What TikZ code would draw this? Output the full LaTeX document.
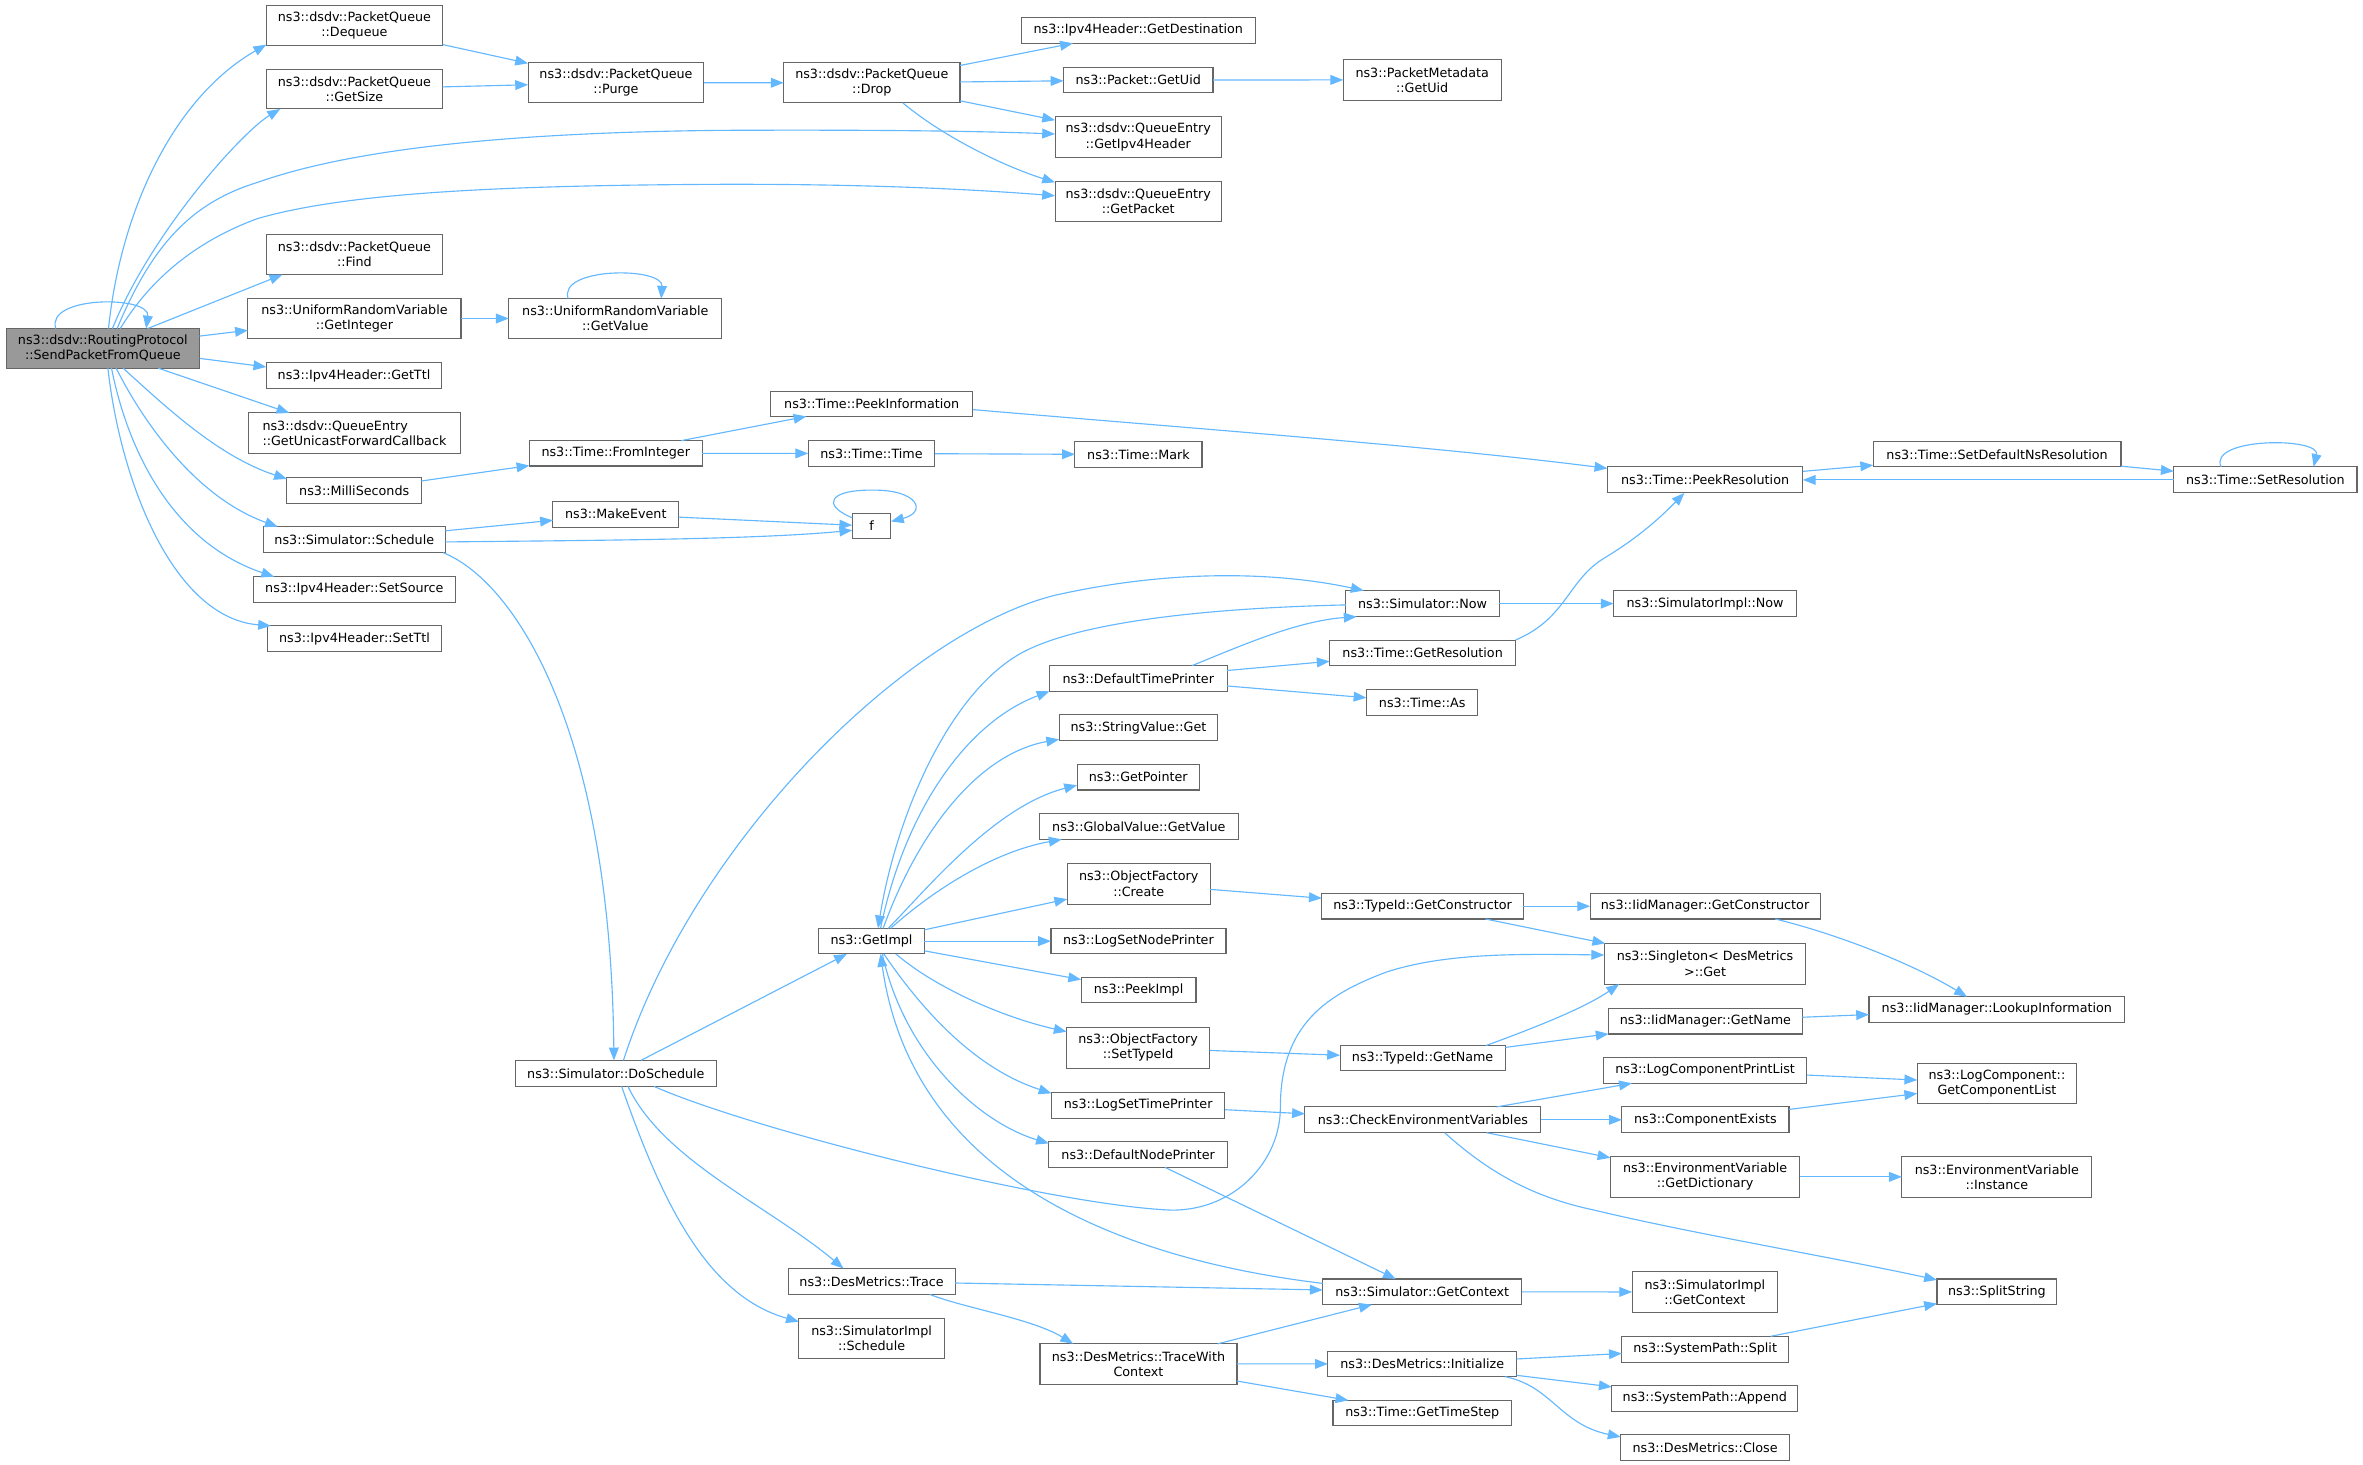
\documentclass[tikz,border=0pt]{standalone}
\usepackage{fontspec}
\setmainfont{DejaVu Sans}
\usetikzlibrary{arrows.meta}
\definecolor{edgec}{HTML}{63B8FF}
\definecolor{boxc}{HTML}{666666}
\definecolor{mainfill}{HTML}{999999}
\tikzset{
 box/.style={draw=boxc, line width=0.7pt, fill=white, inner sep=0pt, outer sep=0pt, align=center, font=\fontsize{8.45}{10}\selectfont, text=black},
 e/.style={draw=edgec, line width=0.75pt, -{Triangle[length=8.5pt,width=6.5pt]}},
}
\newcommand\bx[7][]{\node[box,#1, minimum width={(#5)-(#3)}, minimum height={(#6)-(#4)}] (#2) at ({((#3)+(#5))/2},{((#4)+(#6))/2}) {#7};}
\begin{document}
\begin{tikzpicture}[x=1pt,y=-1pt]
\fill[white] (0,0) rectangle (1568,972.1);
\path[use as bounding box] (0,0) rectangle (1568,972.1);
% nodes
\bx[fill=mainfill]{main}{4}{218}{132.5}{244.3}{ns3::dsdv::RoutingProtocol\\::SendPacketFromQueue}
\bx{deq}{176.7}{3.6}{293.7}{29.9}{ns3::dsdv::PacketQueue\\::Dequeue}
\bx{gsz}{176.7}{45.9}{293.7}{72.3}{ns3::dsdv::PacketQueue\\::GetSize}
\bx{purge}{350.4}{41.5}{467.1}{68.1}{ns3::dsdv::PacketQueue\\::Purge}
\bx{drop}{520}{41.7}{637}{68.3}{ns3::dsdv::PacketQueue\\::Drop}
\bx{gdest}{677.6}{11.6}{833}{28.7}{ns3::Ipv4Header::GetDestination}
\bx{puid}{705.7}{44.6}{804.9}{61.6}{ns3::Packet::GetUid}
\bx{pmuid}{891.3}{39.6}{996.1}{66.4}{ns3::PacketMetadata\\::GetUid}
\bx{gip4}{700.1}{77.5}{810.5}{104.3}{ns3::dsdv::QueueEntry\\::GetIpv4Header}
\bx{gpkt}{700.1}{120.2}{810.5}{146.9}{ns3::dsdv::QueueEntry\\::GetPacket}
\bx{find}{176.7}{155.5}{293.7}{182.2}{ns3::dsdv::PacketQueue\\::Find}
\bx{gint}{164.5}{198.2}{305.9}{224.5}{ns3::UniformRandomVariable\\::GetInteger}
\bx{gval}{337.6}{198.2}{479}{224.5}{ns3::UniformRandomVariable\\::GetValue}
\bx{gttl}{176.7}{240.8}{293.1}{258}{ns3::Ipv4Header::GetTtl}
\bx[align=left]{gufc}{165.1}{274}{305.3}{300.9}{ns3::dsdv::QueueEntry\\::GetUnicastForwardCallback}
\bx{milli}{190.4}{316.9}{279.7}{334.1}{ns3::MilliSeconds}
\bx{fromint}{351.3}{292.4}{465.9}{309.2}{ns3::Time::FromInteger}
\bx{peekinfo}{511.3}{259.5}{645.6}{276.3}{ns3::Time::PeekInformation}
\bx{ttime}{536.3}{292.5}{620.3}{309.3}{ns3::Time::Time}
\bx{tmark}{713.3}{293.2}{797.6}{310}{ns3::Time::Mark}
\bx{peekres}{1066.6}{309.8}{1196.3}{327.1}{ns3::Time::PeekResolution}
\bx{setdef}{1243}{293.2}{1407.4}{309.8}{ns3::Time::SetDefaultNsResolution}
\bx{setres}{1442.4}{309.8}{1564}{327.1}{ns3::Time::SetResolution}
\bx{makeev}{366.9}{332.6}{450.3}{349.8}{ns3::MakeEvent}
\bx{sched}{174.6}{349.5}{295.6}{366.7}{ns3::Simulator::Schedule}
\bx{fnode}{565.5}{340.6}{591.2}{357.6}{f}
\bx{setsrc}{168.2}{382.7}{302}{399.6}{ns3::Ipv4Header::SetSource}
\bx{setttl}{177.3}{415.3}{293.1}{432.2}{ns3::Ipv4Header::SetTtl}
\bx{now}{893.1}{391.9}{994.8}{409.2}{ns3::Simulator::Now}
\bx{simnow}{1070.7}{391.9}{1192.2}{409.2}{ns3::SimulatorImpl::Now}
\bx{dtp}{696.4}{441.7}{814.2}{458.7}{ns3::DefaultTimePrinter}
\bx{getres}{882.3}{424.7}{1005.7}{441.9}{ns3::Time::GetResolution}
\bx{tas}{906.7}{457.6}{980.7}{474.6}{ns3::Time::As}
\bx{strget}{702.8}{474.4}{808.1}{491.5}{ns3::StringValue::Get}
\bx{gptr}{714.7}{507.2}{795.9}{524.2}{ns3::GetPointer}
\bx{gvget}{689.6}{539.9}{821.7}{557}{ns3::GlobalValue::GetValue}
\bx{ofcreate}{708.2}{572.9}{803}{599.9}{ns3::ObjectFactory\\::Create}
\bx{tgc}{877.1}{592.8}{1010.8}{609.8}{ns3::TypeId::GetConstructor}
\bx{igc}{1055.1}{592.8}{1207.7}{609.8}{ns3::IidManager::GetConstructor}
\bx{getimpl}{543.3}{616}{613.4}{633}{ns3::GetImpl}
\bx{lsnp}{697.4}{616}{813.5}{633}{ns3::LogSetNodePrinter}
\bx{single}{1064.5}{626}{1198.3}{653}{ns3::Singleton< DesMetrics\\ >::Get}
\bx{peekimpl}{717.4}{648.5}{793.6}{665.5}{ns3::PeekImpl}
\bx{lookup}{1240.2}{661.4}{1409.8}{678.2}{ns3::IidManager::LookupInformation}
\bx{igname}{1067.4}{669.1}{1195.9}{686.1}{ns3::IidManager::GetName}
\bx{ofsti}{707.8}{681.7}{802.6}{708.9}{ns3::ObjectFactory\\::SetTypeId}
\bx{tgname}{889.2}{693.8}{998.8}{710.6}{ns3::TypeId::GetName}
\bx{dosched}{341.8}{703.6}{475.5}{720.9}{ns3::Simulator::DoSchedule}
\bx{lcpl}{1064}{701.8}{1198.9}{718.8}{ns3::LogComponentPrintList}
\bx{lcgcl}{1272.2}{705.6}{1378}{732.5}{ns3::LogComponent::\\GetComponentList}
\bx{lstp}{697.7}{724.9}{812.8}{741.9}{ns3::LogSetTimePrinter}
\bx{cev}{865.9}{734.5}{1022.5}{751.6}{ns3::CheckEnvironmentVariables}
\bx{cexists}{1076.2}{734.5}{1187.1}{751.6}{ns3::ComponentExists}
\bx{dnp}{696}{757.4}{814.5}{774.6}{ns3::DefaultNodePrinter}
\bx{evdict}{1068.6}{767.5}{1194.3}{794.3}{ns3::EnvironmentVariable\\::GetDictionary}
\bx{evinst}{1262}{767.5}{1388.1}{794.3}{ns3::EnvironmentVariable\\::Instance}
\bx{trace}{522.9}{841.7}{633.8}{858.9}{ns3::DesMetrics::Trace}
\bx{getctx}{877.7}{848.7}{1009.8}{865.7}{ns3::Simulator::GetContext}
\bx{simgctx}{1083}{843.8}{1179.5}{870.8}{ns3::SimulatorImpl\\::GetContext}
\bx{split}{1285.3}{848.7}{1364.8}{865.7}{ns3::SplitString}
\bx{simsched}{530.1}{874.8}{626.6}{901.6}{ns3::SimulatorImpl\\::Schedule}
\bx{spsplit}{1076.2}{886.7}{1186.7}{903.8}{ns3::SystemPath::Split}
\bx{twc}{690.1}{891.7}{820.8}{918.4}{ns3::DesMetrics::TraceWith\\Context}
\bx{init}{881.1}{896.5}{1006.4}{913.5}{ns3::DesMetrics::Initialize}
\bx{append}{1069.5}{919.2}{1193}{936.3}{ns3::SystemPath::Append}
\bx{gts}{884.5}{929.2}{1003}{946.2}{ns3::Time::GetTimeStep}
\bx{close}{1075.4}{952}{1187.5}{969}{ns3::DesMetrics::Close}
% edges from main
\draw[e] ([shift={(33,0)}]main.north west) .. controls (30,196) and (100,196) .. ([shift={(93,0)}]main.north west);
\draw[e] ([shift={(68,0)}]main.north west) .. controls (80,140) and (115,65) .. ([shift={(0,26)}]deq.north west);
\draw[e] ([shift={(70.6,0)}]main.north west) .. controls (100,155) and (160,88) .. ([shift={(9.2,26.4)}]gsz.north west);
\draw[e] ([shift={(73.7,0)}]main.north west) .. controls (100,165) and (125,135) .. (171,121) .. controls (230,100) and (330,88) .. (478,86.5) .. controls (580,86) and (650,87) .. ([shift={(0,11.4)}]gip4.north west);
\draw[e] ([shift={(75.8,0)}]main.north west) .. controls (100,185) and (130,160) .. (171,145) .. controls (230,128) and (330,123) .. (478,122.3) .. controls (580,122) and (650,126) .. ([shift={(0,9.7)}]gpkt.north west);
\draw[e] ([shift={(94,0)}]main.north west) -- ([shift={(10.7,26.7)}]find.north west);
\draw[e] ([shift={(128.5,5)}]main.north west) -- ([shift={(0,21)}]gint.north west);
\draw[e] ([shift={(128.5,19.8)}]main.north west) -- ([shift={(0,2.7)}]gttl.north west);
\draw[e] ([shift={(101,26.3)}]main.north west) -- ([shift={(26.9,0)}]gufc.north west);
\draw[e] ([shift={(77.7,26.3)}]main.north west) .. controls (110,270) and (145,303) .. ([shift={(0,0.9)}]milli.north west);
\draw[e] ([shift={(73.1,26.3)}]main.north west) .. controls (95,280) and (130,330) .. ([shift={(9.7,0)}]sched.north west);
\draw[e] ([shift={(70,26.3)}]main.north west) .. controls (85,300) and (115,360) .. ([shift={(13.7,0)}]setsrc.north west);
\draw[e] ([shift={(67.6,26.3)}]main.north west) .. controls (80,320) and (115,410) .. ([shift={(2.5,0)}]setttl.north west);
% upper part
\draw[e] (deq) -- (purge);
\draw[e] (gsz) -- (purge);
\draw[e] (purge) -- (drop);
\draw[e] (drop) -- (gdest);
\draw[e] (drop) -- (puid);
\draw[e] (drop) -- (gip4);
\draw[e] ([shift={(79.1,26.6)}]drop.north west) .. controls (625,90) and (665,110) .. ([shift={(0,0.8)}]gpkt.north west);
\draw[e] (puid) -- (pmuid);
\draw[e] (gint) -- (gval);
\draw[e] ([shift={(39.4,0)}]gval.north west) .. controls (370,177) and (440,177) .. ([shift={(101.2,0)}]gval.north west);
\draw[e] (milli) -- (fromint);
\draw[e] (fromint) -- (peekinfo);
\draw[e] (fromint) -- (ttime);
\draw[e] (ttime) -- (tmark);
\draw[e] ([shift={(134.3,12.3)}]peekinfo.north west) .. controls (800,285) and (950,296) .. ([shift={(0,1)}]peekres.north west);
\draw[e] (peekres) -- (setdef);
\draw[e] (setdef) -- (setres);
\draw[e] (setres.west) -- (peekres.east);
\draw[e] ([shift={(31.4,0)}]setres.north west) .. controls (1465,290) and (1540,290) .. ([shift={(92.8,0)}]setres.north west);
\draw[e] (sched) -- (makeev);
\draw[e] (makeev) -- (fnode);
\draw[e] ([shift={(121,10.1)}]sched.north west) .. controls (400,358.5) and (500,358) .. ([shift={(0,11.3)}]fnode.north west);
\draw[e] ([shift={(0,3)}]fnode.north west) .. controls (545,335) and (550,325) .. (579,325.2) .. controls (610,325) and (615,340) .. ([shift={(25.7,5.4)}]fnode.north west);
\draw[e] ([shift={(119.4,17.2)}]sched.north west) .. controls (340,385) and (405,480) .. ([shift={(65.6,0)}]dosched.north west);
% DoSchedule
\draw[e] ([shift={(71.9,0)}]dosched.north west) .. controls (460,560) and (600,420) .. (700,395) .. controls (780,377) and (850,380) .. ([shift={(11.8,0)}]now.north west);
\draw[e] (dosched) -- (getimpl);
\draw[e] ([shift={(92.2,17.3)}]dosched.north west) .. controls (500,750) and (700,800) .. (777.7,803) .. controls (820,803) and (849.6,770) .. (849.6,735) .. controls (849.6,680) and (880,660) .. (920,645) .. controls (960,632) and (1010,633) .. ([shift={(0,7.7)}]single.north west);
\draw[e] ([shift={(74.9,17.3)}]dosched.north west) .. controls (440,770) and (510,800) .. ([shift={(36.8,0)}]trace.north west);
\draw[e] ([shift={(70.7,17.3)}]dosched.north west) .. controls (440,800) and (470,860) .. ([shift={(0,2.2)}]simsched.north west);
% Now / time printer
\draw[e] ([shift={(0,9.5)}]now.north west) .. controls (820,403) and (720,410) .. (677.4,433.5) .. controls (630,460) and (595,540) .. ([shift={(39.3,0)}]getimpl.north west);
\draw[e] ([shift={(94.5,0)}]dtp.north west) .. controls (820,430) and (860,412) .. ([shift={(7.1,17.3)}]now.north west);
\draw[e] (dtp) -- (getres);
\draw[e] (dtp) -- (tas);
\draw[e] (now) -- (simnow);
\draw[e] ([shift={(123.4,0)}]getres.north west) .. controls (1040,410) and (1040,385) .. (1065,370) .. controls (1090,355) and (1105,340) .. ([shift={(51.1,17.3)}]peekres.north west);
% type id
\draw[e] (ofcreate) -- (tgc);
\draw[e] (tgc) -- (igc);
\draw[e] (tgc) -- (single);
\draw[e] ([shift={(122.9,17)}]igc.north west) .. controls (1220,620) and (1270,640) .. ([shift={(65,0)}]lookup.north west);
\draw[e] (ofsti) -- (tgname);
\draw[e] ([shift={(96.8,0)}]tgname.north west) .. controls (1010,685) and (1050,670) .. ([shift={(9.9,27)}]single.north west);
\draw[e] (tgname) -- (igname);
\draw[e] (igname) -- (lookup);
% environment
\draw[e] (lstp) -- (cev);
\draw[e] (dnp) -- (getctx);
\draw[e] (cev) -- (lcpl);
\draw[e] (cev) -- (cexists);
\draw[e] (cev) -- (evdict);
\draw[e] ([shift={(92.7,17.1)}]cev.north west) .. controls (990,780) and (1020,795) .. (1058,803) .. controls (1120,818) and (1220,835) .. ([shift={(0,0.6)}]split.north west);
\draw[e] (lcpl) -- (lcgcl);
\draw[e] (cexists) -- (lcgcl);
\draw[e] (evdict) -- (evinst);
\draw[e] (getctx) -- (simgctx);
\draw[e] (spsplit) -- (split);
\draw[e] (init) -- (spsplit);
\draw[e] (init) -- (append);
\draw[e] ([shift={(117.7,17)}]init.north west) .. controls (1030,920) and (1035,945) .. ([shift={(0,1.5)}]close.north west);
\draw[e] (trace) -- (getctx);
\draw[e] ([shift={(94,17.2)}]trace.north west) .. controls (640,868) and (685,875) .. ([shift={(22,0)}]twc.north west);
\draw[e] (twc) -- (getctx);
\draw[e] (twc) -- (init);
\draw[e] (twc) -- (gts);
% GetImpl
\draw[e] ([shift={(0,2.9)}]getctx.north west) .. controls (740,835) and (605,780) .. ([shift={(41,17)}]getimpl.north west);
\draw[e] ([shift={(41,0)}]getimpl.north west) .. controls (600,540) and (640,480) .. ([shift={(0,17)}]dtp.north west);
\draw[e] ([shift={(42.7,0)}]getimpl.north west) .. controls (610,550) and (650,500) .. ([shift={(0,16.2)}]strget.north west);
\draw[e] ([shift={(46.1,0)}]getimpl.north west) .. controls (615,590) and (660,535) .. ([shift={(0,13.8)}]gptr.north west);
\draw[e] ([shift={(47.7,0)}]getimpl.north west) .. controls (620,590) and (660,565) .. ([shift={(14.9,17.1)}]gvget.north west);
\draw[e] (getimpl) -- (ofcreate);
\draw[e] (getimpl) -- (lsnp);
\draw[e] (getimpl) -- (peekimpl);
\draw[e] ([shift={(51.2,17)}]getimpl.north west) .. controls (620,655) and (665,675) .. ([shift={(0,2.9)}]ofsti.north west);
\draw[e] ([shift={(43.2,17)}]getimpl.north west) .. controls (615,675) and (650,710) .. ([shift={(0,0.6)}]lstp.north west);
\draw[e] ([shift={(42.2,17)}]getimpl.north west) .. controls (600,700) and (650,745) .. ([shift={(0,1.3)}]dnp.north west);
\end{tikzpicture}
\end{document}
